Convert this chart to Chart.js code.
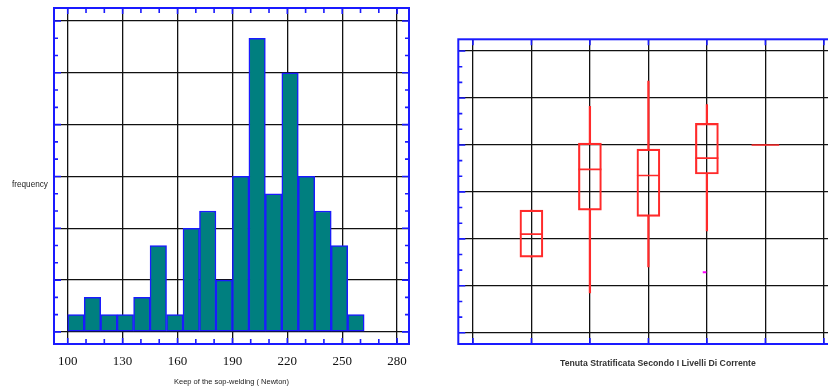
<!DOCTYPE html>
<html>
<head>
<meta charset="utf-8">
<script src="https://cdn.jsdelivr.net/npm/chart.js@4"></script>
<style>
  html, body { margin: 0; padding: 0; background: #fff; }
  body { width: 828px; height: 387px; overflow: hidden; position: relative; font-family: 'Liberation Sans', Arial, sans-serif; }
  canvas { position: absolute; top: 0; }
  #histChart { left: 0; }
  #boxChart { left: 440px; }
  .label { position: absolute; font-size: 8.2px; color: #222; white-space: nowrap; }
</style>
</head>
<body>
<canvas id="histChart" width="420" height="387"></canvas>
<canvas id="boxChart" width="400" height="387"></canvas>
<div class="label" style="left:12px; top:180px;">frequency</div>
<div class="label" style="left:560px; top:358px; font-size:8.7px; font-weight:bold; color:#333;">Tenuta Stratificata Secondo I Livelli Di Corrente</div>

<script>
// Histogram data (bin starts, bin width 9)
const binStarts = [100, 109, 118, 127, 136, 145, 154, 163, 172, 181, 190, 199, 208, 217, 226, 235, 244, 253];
const binWidth = 9;
const binCounts = [1, 2, 1, 1, 2, 5, 1, 6, 7, 3, 9, 17, 8, 15, 9, 7, 5, 1];

// Histogram axes
const histXTicks = [100, 130, 160, 190, 220, 250, 280];
const histXMinor = [100, 110, 120, 130, 140, 150, 160, 170, 180, 190, 200, 210, 220, 230, 240, 250, 260, 270, 280];
const histYTicks = [0, 3, 6, 9, 12, 15, 18];
const histYMinor = [0, 1, 2, 3, 4, 5, 6, 7, 8, 9, 10, 11, 12, 13, 14, 15, 16, 17, 18];

// Box plot data (one box per level)
const boxX = [1, 2, 3, 4, 5];
const boxMin = [1.61, 0.85, 1.40, 2.17, 4.0];
const boxQ1 = [1.61, 2.61, 2.48, 3.38, 4.0];
const boxMedian = [2.10, 3.48, 3.35, 3.72, 4.0];
const boxQ3 = [2.61, 4.04, 3.91, 4.46, 4.0];
const boxMax = [2.61, 4.82, 5.36, 4.86, 4.0];
const outliers = [{ x: 3.96, y: 1.29 }];

// Box plot axes
const boxXTicks = [0, 1, 2, 3, 4, 5, 6];
const boxYTicks = [0, 1, 2, 3, 4, 5, 6];
const boxYMinor = [0, 1/3, 2/3, 1, 4/3, 5/3, 2, 7/3, 8/3, 3, 10/3, 11/3, 4, 13/3, 14/3, 5, 16/3, 17/3, 6];

const BLUE = '#1a1aff';
const RED = '#ff2a2a';
const GRID = '#111';

// Blue frame with inward tick marks
const frameTicks = {
  id: 'frameTicks',
  afterDraw(chart, args, opts) {
    const { ctx, chartArea: a, scales: { x, y } } = chart;
    ctx.save();
    ctx.strokeStyle = BLUE;
    ctx.lineWidth = 1.6;
    ctx.beginPath();
    opts.xTicks.forEach(v => {
      const px = x.getPixelForValue(v);
      const len = opts.xMajor.includes(v) ? 6 : 5;
      ctx.moveTo(px, a.top); ctx.lineTo(px, a.top + len);
      ctx.moveTo(px, a.bottom); ctx.lineTo(px, a.bottom - len);
    });
    opts.yTicks.forEach(v => {
      const py = y.getPixelForValue(v);
      const len = opts.yMajor.includes(v) ? 7 : 4;
      ctx.moveTo(a.left, py); ctx.lineTo(a.left + len, py);
      ctx.moveTo(a.right, py); ctx.lineTo(a.right - len, py);
    });
    ctx.stroke();
    ctx.lineWidth = 2;
    ctx.strokeRect(a.left, a.top, a.right - a.left, a.bottom - a.top);
    ctx.restore();
  }
};

function gridOpts() {
  return { color: GRID, lineWidth: 1.3, drawTicks: false, offset: false };
}

// Left: histogram
new Chart(document.getElementById('histChart'), {
  type: 'bar',
  data: {
    datasets: [{
      data: binStarts.map((s, i) => ({ x: s + binWidth / 2, y: binCounts[i] })),
      backgroundColor: '#007f7f',
      borderColor: BLUE,
      borderWidth: 1.5,
      borderSkipped: false,
      barPercentage: 1,
      categoryPercentage: 1
    }]
  },
  plugins: [frameTicks],
  options: {
    responsive: false,
    animation: false,
    layout: { autoPadding: false, padding: { left: 54, top: 8, right: 11, bottom: 0 } },
    plugins: {
      legend: { display: false },
      tooltip: { enabled: false },
      frameTicks: { xTicks: histXMinor, xMajor: histXTicks, yTicks: histYMinor, yMajor: histYTicks }
    },
    scales: {
      x: {
        type: 'linear',
        offset: false,
        min: 92.5,
        max: 286.5,
        afterBuildTicks: scale => { scale.ticks = histXTicks.map(v => ({ value: v })); },
        afterFit: scale => { scale.height = 43; },
        grid: gridOpts(),
        border: { display: false },
        ticks: {
          color: '#111',
          padding: 10,
          font: { family: "'Liberation Serif', 'Times New Roman', serif", size: 13 }
        },
        title: {
          display: true,
          text: 'Keep of the sop-welding ( Newton)',
          color: '#222',
          font: { family: "'Liberation Sans', Arial, sans-serif", size: 7.5 },
          padding: { top: 0, bottom: 1 }
        }
      },
      y: {
        min: -0.7,
        max: 18.75,
        afterBuildTicks: scale => { scale.ticks = histYTicks.map(v => ({ value: v })); },
        afterFit: scale => { scale.width = 0; },
        grid: gridOpts(),
        border: { display: false },
        ticks: { display: false }
      }
    }
  }
});

// Right: box plot built from floating bars and line markers
new Chart(document.getElementById('boxChart'), {
  type: 'bar',
  data: {
    datasets: [{
      // boxes q1..q3
      data: boxX.map((x, i) => ({ x: x, y: [boxQ1[i], boxQ3[i]] })),
      backgroundColor: 'rgba(0,0,0,0)',
      borderColor: RED,
      borderWidth: 1.5,
      borderSkipped: false,
      barThickness: 23,
      grouped: false
    }, {
      // upper whiskers
      data: boxX.map((x, i) => ({ x: x, y: [boxQ3[i], boxMax[i]] })),
      backgroundColor: RED,
      borderWidth: 0,
      barThickness: 1.6,
      grouped: false
    }, {
      // lower whiskers
      data: boxX.map((x, i) => ({ x: x, y: [boxMin[i], boxQ1[i]] })),
      backgroundColor: RED,
      borderWidth: 0,
      barThickness: 1.6,
      grouped: false
    }, {
      // medians
      type: 'line',
      data: boxX.map((x, i) => ({ x: x, y: boxMedian[i] })),
      showLine: false,
      pointStyle: 'line',
      pointRadius: ctx => (ctx.dataIndex === 4 ? 13.8 : 11.5),
      borderColor: RED,
      borderWidth: 1.6
    }, {
      // outliers
      type: 'line',
      data: outliers,
      showLine: false,
      pointStyle: 'line',
      pointRadius: 1.8,
      borderColor: '#ff00ff',
      borderWidth: 2
    }]
  },
  plugins: [frameTicks],
  options: {
    responsive: false,
    animation: false,
    layout: { autoPadding: false, padding: { left: 18.3, top: 39.3, right: 1.5, bottom: 0 } },
    plugins: {
      legend: { display: false },
      tooltip: { enabled: false },
      frameTicks: { xTicks: boxXTicks, xMajor: boxXTicks, yTicks: boxYMinor, yMajor: boxYTicks }
    },
    scales: {
      x: {
        type: 'linear',
        offset: false,
        min: -0.25,
        max: 6.25,
        afterBuildTicks: scale => { scale.ticks = boxXTicks.map(v => ({ value: v })); },
        afterFit: scale => { scale.height = 43; },
        grid: gridOpts(),
        border: { display: false },
        ticks: { display: false }
      },
      y: {
        min: -0.24,
        max: 6.25,
        afterBuildTicks: scale => { scale.ticks = boxYTicks.map(v => ({ value: v })); },
        afterFit: scale => { scale.width = 0; },
        grid: gridOpts(),
        border: { display: false },
        ticks: { display: false }
      }
    }
  }
});
</script>
</body>
</html>
